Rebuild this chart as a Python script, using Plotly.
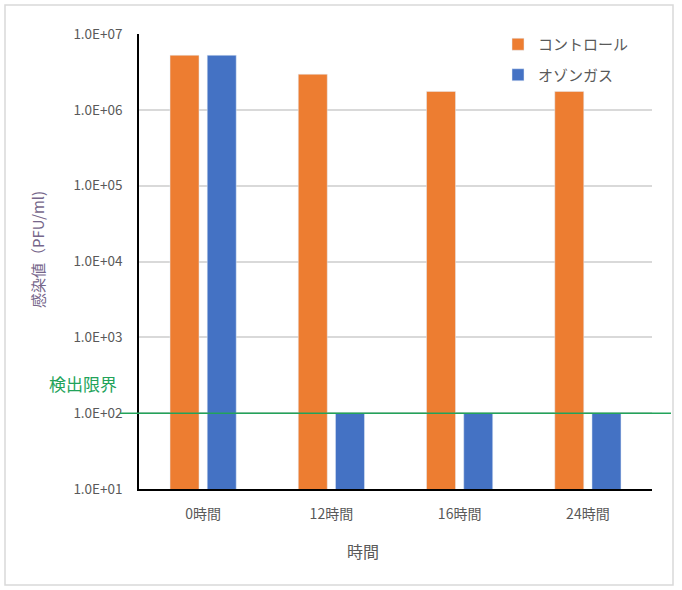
import numpy as np
import plotly.graph_objects as go

categories = ["0時間", "12時間", "16時間", "24時間"]
control = [5.25e6, 2.95e6, 1.75e6, 1.75e6]
ozone = [5.25e6, 1.0e2, 1.0e2, 1.0e2]
series_names = ["コントロール", "オゾンガス"]
ytick_vals = [1e1, 1e2, 1e3, 1e4, 1e5, 1e6, 1e7]
ytick_text = ["1.0E+01", "1.0E+02", "1.0E+03", "1.0E+04", "1.0E+05", "1.0E+06", "1.0E+07"]
detection_limit = 1e2
detection_label = "検出限界"
x_title = "時間"
y_title = "感染値（PFU/ml)"

W, H = 682, 590
L, R, T, B = 139, 30, 34, 101
pw, ph = W - L - R, H - T - B


def px(x):
    return (x - L) / pw


def py(y):
    return (H - B - y) / ph


FONT = "Noto Sans CJK JP"
GRAY = "#595959"
GREEN = "#22A35A"

fig = go.Figure()
fig.add_trace(go.Bar(x=categories, y=control, name=series_names[0],
                     marker=dict(color="#ED7D31"), legendgroup="a"))
fig.add_trace(go.Bar(x=categories, y=ozone, name=series_names[1],
                     marker=dict(color="#4472C4"), legendgroup="b"))

ymin, ymax = 1, 7
lim_paper = (np.log10(detection_limit) - ymin) / (ymax - ymin)

shapes = [
    dict(type="rect", xref="paper", yref="paper", x0=px(5), x1=px(673), y0=py(585), y1=py(5),
         line=dict(color="#D9D9D9", width=1.5), fillcolor="rgba(0,0,0,0)", layer="below"),
    dict(type="line", xref="paper", yref="paper", x0=px(120), x1=px(671), y0=lim_paper, y1=lim_paper,
         line=dict(color=GREEN, width=1.5)),
]

annotations = [
    dict(text=detection_label, xref="paper", yref="paper", x=px(119), y=lim_paper,
         xanchor="right", yanchor="bottom", yshift=15, showarrow=False,
         font=dict(family=FONT, size=17, color=GREEN)),
    dict(text=x_title, xref="paper", yref="paper", x=px(363), y=py(551),
         xanchor="center", yanchor="middle", showarrow=False,
         font=dict(family=FONT, size=16, color=GRAY)),
    dict(text=y_title, xref="paper", yref="paper", x=px(37), y=py(250),
         xanchor="center", yanchor="middle", showarrow=False, textangle=-90,
         font=dict(family=FONT, size=15, color="#76668A")),
]

fig.update_layout(
    width=W, height=H,
    margin=dict(l=L, r=R, t=T, b=B),
    paper_bgcolor="white", plot_bgcolor="white",
    barmode="group", bargap=0.42, bargroupgap=0.22,
    font=dict(family=FONT, size=12, color=GRAY),
    shapes=shapes, annotations=annotations,
    showlegend=True,
    legend=dict(x=px(498), y=py(28), xanchor="left", yanchor="top",
                traceorder="grouped", tracegroupgap=8,
                font=dict(family=FONT, size=15, color=GRAY),
                bgcolor="rgba(0,0,0,0)"),
    xaxis=dict(showgrid=False, showline=True, linecolor="black", linewidth=1.5,
               ticks="", ticklabelstandoff=11,
               tickfont=dict(family=FONT, size=14, color=GRAY)),
    yaxis=dict(type="log", range=[ymin, ymax], tickvals=ytick_vals, ticktext=ytick_text,
               showgrid=True, gridcolor="#D9D9D9", gridwidth=1.5,
               showline=True, linecolor="black", linewidth=1.5,
               ticks="", ticklabelstandoff=12, zeroline=False,
               tickfont=dict(family=FONT, size=13.5, color=GRAY)),
)

fig.write_html("out.html")
